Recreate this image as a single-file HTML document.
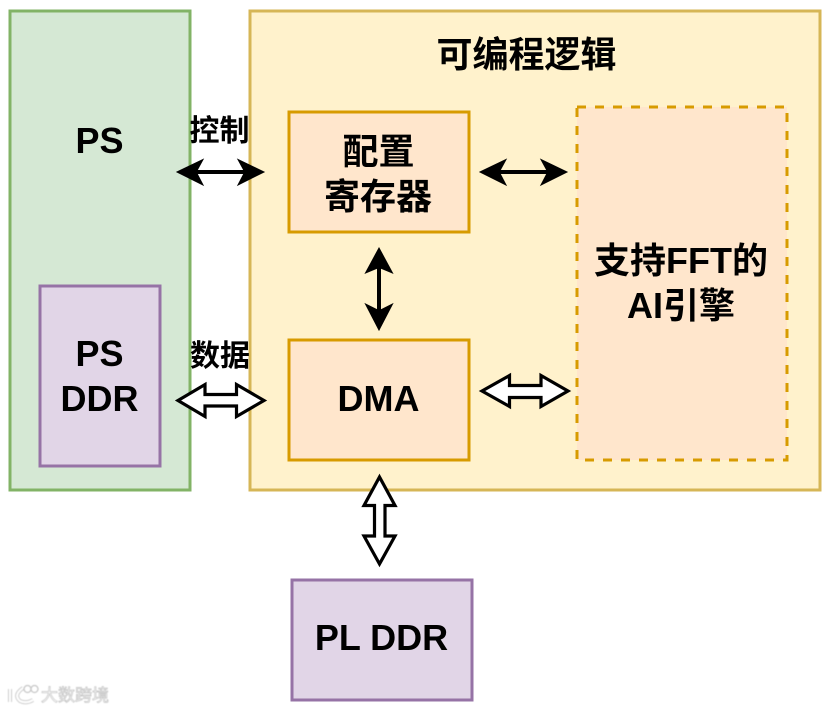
<!DOCTYPE html>
<html lang="zh">
<head>
<meta charset="utf-8">
<title>Diagram</title>
<style>
html,body{margin:0;padding:0;background:#fff;width:831px;height:711px;overflow:hidden}
svg{display:block}
text{font-family:"Liberation Sans","Noto Sans CJK SC",sans-serif;font-weight:700;fill:#000;text-anchor:middle}
.l{font-size:36px}
.s{font-size:30px}
</style>
</head>
<body>
<svg width="831" height="711" viewBox="0 0 831 711" xmlns="http://www.w3.org/2000/svg">
<defs><filter id="b" x="-10%" y="-10%" width="120%" height="120%"><feGaussianBlur stdDeviation="0.5"/></filter></defs>
<g stroke-width="3">
<rect x="10" y="11" width="180" height="479" fill="#d5e8d4" stroke="#82b366"/>
<rect x="250" y="11" width="570" height="479" fill="#fff2cc" stroke="#d6b656"/>
<rect x="289" y="112" width="180" height="120" fill="#ffe6cc" stroke="#d79b00"/>
<rect x="289" y="340" width="180" height="120" fill="#ffe6cc" stroke="#d79b00"/>
<rect x="577" y="107" width="210" height="353" fill="#ffe6cc" stroke="#d79b00" stroke-dasharray="9 9"/>
<rect x="40" y="286" width="120" height="180" fill="#e1d5e7" stroke="#9673a6"/>
<rect x="292" y="580" width="180" height="120" fill="#e1d5e7" stroke="#9673a6"/>
</g>

<!-- solid arrows -->
<g fill="#000" stroke="#000" stroke-width="1" stroke-linejoin="miter">
<path d="M177 172 L203 159.500 L197 170.500 H244 L238 159.500 L264 172 L238 185 L244 173.500 H197 L203 185 Z"/>
<path d="M480 172 L506 159.500 L500 170.500 H547 L541 159.500 L567 172 L541 185 L547 173.500 H500 L506 185 Z"/>
<path d="M379 248 L392.500 273 L380.500 268 V310 L392.500 304 L379 330 L365.500 304 L377.500 310 V268 L365.500 273 Z"/>
</g>

<!-- hollow arrows -->
<g fill="#fff" stroke="#000" stroke-width="3.200" stroke-linejoin="miter">
<path d="M178 400.500 L205 384.500 V394.500 H236.500 V384.500 L264 400.500 L236.500 416.500 V406 H205 V416.500 Z"/>
<path d="M482 391 L509.500 375.500 V385.500 H541 V375.500 L568 391 L541 406.500 V397.500 H509.500 V406.500 Z"/>
<path d="M379.500 477 L395 505.500 H385 V536 H395 L379.500 564 L364 536 H374.500 V505.500 H364 Z"/>
</g>

<text class="l" x="526.500" y="67">可编程逻辑</text>
<text class="l" x="99.500" y="153">PS</text>
<text class="l" x="99.500" y="366">PS</text>
<text class="l" x="99.500" y="411">DDR</text>
<text class="l" x="378.500" y="164">配置</text>
<text class="l" x="378" y="209">寄存器</text>
<text class="l" x="378.500" y="411">DMA</text>
<text class="l" x="681" y="273">支持FFT的</text>
<text class="l" x="681" y="318">AI引擎</text>
<text class="l" x="381.500" y="650">PL DDR</text>
<text class="s" x="219.500" y="141">控制</text>
<text class="s" x="220" y="366">数据</text>

<!-- watermark -->
<g filter="url(#b)" opacity="0.85">
<g fill="none" stroke="#bdbdbd" stroke-width="4">
<path d="M10 689 V702 M23 688 Q13 695 20 701 Q26 704 33 700"/>
</g>
<g fill="none" stroke="#fff" stroke-width="2.200">
<path d="M10 689 V702 M23 688 Q13 695 20 701 Q26 704 33 700"/>
</g>
<g fill="#fff" stroke="#bdbdbd" stroke-width="1.300">
<circle cx="27.500" cy="689" r="3.500"/>
<circle cx="34.500" cy="689" r="3.500"/>
</g>
<text x="75" y="701" style="font-size:17px;font-weight:400;fill:#fff;stroke:#b8b8b8;stroke-width:.7px">大数跨境</text>
</g>
</svg>
</body>
</html>
